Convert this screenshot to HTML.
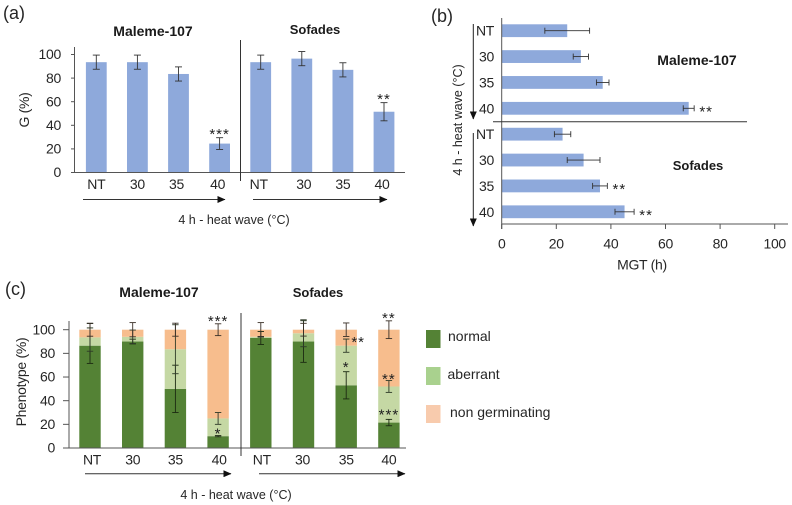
<!DOCTYPE html>
<html lang="en">
<head>
<meta charset="utf-8">
<title>Heat wave germination charts</title>
<style>
html,body{margin:0;padding:0;background:#fff;}
body{width:792px;height:505px;overflow:hidden;}
svg{display:block;font-family:"Liberation Sans",sans-serif;fill:#262626;filter:blur(0.3px);}
text{font-size:14px;letter-spacing:-0.3px;}
.title{font-weight:bold;font-size:14px;fill:#1a1a1a;letter-spacing:0;}
.title-short{font-size:13px;}
.panel{font-size:18px;letter-spacing:0;}
.axis-title{font-size:12.5px;letter-spacing:0;}
.legend-text{font-size:14px;letter-spacing:0;}
.star{font-size:15px;letter-spacing:1px;text-anchor:middle;fill:#222;}
</style>
</head>
<body>
<svg id="figure" width="792" height="505" viewBox="0 0 792 505" xmlns="http://www.w3.org/2000/svg">
  <defs>
    <marker id="head" markerWidth="8" markerHeight="7" refX="7.5" refY="3.5" orient="auto" markerUnits="userSpaceOnUse"><path d="M0,0 L8,3.5 L0,7 Z" fill="#111"/></marker>
  </defs>
  <text class="panel" x="3" y="19">(a)</text>
  <text class="title" x="153" y="36" text-anchor="middle">Maleme-107</text>
  <text class="title title-short" x="315" y="34" text-anchor="middle">Sofades</text>
  <text class="axis-title" x="234" y="224" text-anchor="middle">4 h - heat wave (°C)</text>
  <text transform="translate(29,110) rotate(-90)" text-anchor="middle">G (%)</text>

  <text class="panel" x="431" y="22">(b)</text>
  <text class="title" x="697" y="65" text-anchor="middle">Maleme-107</text>
  <text class="title title-short" x="698" y="170" text-anchor="middle">Sofades</text>
  <text x="642" y="269.5" text-anchor="middle">MGT (h)</text>
  <text class="axis-title" transform="translate(462,120) rotate(-90)" text-anchor="middle">4 h - heat wave (°C)</text>

  <text class="panel" x="5" y="295">(c)</text>
  <text class="title" x="159" y="297" text-anchor="middle">Maleme-107</text>
  <text class="title title-short" x="318" y="297" text-anchor="middle">Sofades</text>
  <text class="axis-title" x="236" y="499" text-anchor="middle">4 h - heat wave (°C)</text>
  <text transform="translate(26,382) rotate(-90)" text-anchor="middle">Phenotype (%)</text>

  <rect x="426" y="330" width="14.5" height="18" fill="#548235"/>
  <text class="legend-text" x="448" y="341">normal</text>
  <rect x="426" y="367" width="14.5" height="18" fill="#A9D18E"/>
  <text class="legend-text" x="447.5" y="379">aberrant</text>
  <rect x="426" y="405" width="14.5" height="18" fill="#F8CBAD"/>
  <text class="legend-text" x="450" y="417">non germinating</text>
</svg>
<script>
// Shared categories
const categories = ['NT', '30', '35', '40', 'NT', '30', '35', '40'];

// Chart (a): germination
const aTicks = [0, 20, 40, 60, 80, 100];
const aValues = [93.5, 93.5, 83.5, 24.5, 93.5, 96.5, 87, 51.5];
const aErrors = [6, 6, 6, 5, 6, 6, 6, 7.7];
const aStars = ['', '', '', '***', '', '', '', '**'];

// Chart (b): mean germination time
const bTicks = [0, 20, 40, 60, 80, 100];
const bValues = [24, 29, 37, 68.5, 22.3, 30, 36, 45];
const bErrors = [8.2, 2.8, 2.3, 2, 3, 6, 2.7, 3.5];
const bStars = ['', '', '', '**', '', '', '**', '**'];

// Chart (c): phenotype stacks
const cTicks = [0, 20, 40, 60, 80, 100];
const cNormal = [86.5, 90, 50, 10, 93, 90, 53, 21.5];
const cAberrant = [7, 4, 33.5, 15, 1, 7, 33.5, 30.5];
const cNonGerm = [6.5, 6, 16.5, 75, 6, 3, 13.5, 48];
const cNormalErr = [15, 2, 20, 0.5, 5.5, 17.6, 11.5, 2.7];
const cAberrantErr = [11.7, 5.7, 20.7, 5, 0.3, 11.4, 5.6, 5];
const cNonGermErr = [5.5, 6, 5.5, 5, 6, 5.4, 5.7, 7.5];
const cStarLabels = ['***', '*', '**', '*', '**', '**', '***'];
const cStarBars = [3, 3, 6, 6, 7, 7, 7];
const cStarValues = [110, 15, 92, 71, 112.6, 61, 31];
const cStarShift = [0, 0, 12, 0, 0, 0, 0];

const svg = document.getElementById('figure');
const NS = 'http://www.w3.org/2000/svg';

function mk(tag, name, attrs, txt) {
  const el = document.createElementNS(NS, tag);
  
  
  for (const k in attrs) el.setAttribute(k, attrs[k]);
  if (txt !== undefined) el.textContent = txt;
  svg.appendChild(el);
  return el;
}
function line(name, x1, y1, x2, y2, color, w, marker) {
  const el = mk('line', name, {x1: x1, y1: y1, x2: x2, y2: y2, stroke: color || '#444', 'stroke-width': w || 1});
  if (marker) el.setAttribute('marker-end', 'url(#head)');
  return el;
}
function vErr(name, x, y1, y2, capW, color) {
  line(name + '-stem', x, y1, x, y2, color, 0.9);
  line(name + '-cap-top', x - capW, y1, x + capW, y1, color, 0.9);
  line(name + '-cap-bottom', x - capW, y2, x + capW, y2, color, 0.9);
}
function hErr(name, y, x1, x2, capH, color) {
  line(name + '-stem', x1, y, x2, y, color, 0.9);
  line(name + '-cap-low', x1, y - capH, x1, y + capH, color, 0.9);
  line(name + '-cap-high', x2, y - capH, x2, y + capH, color, 0.9);
}

/* ---------- chart a ---------- */
const ax = i => 96.3 + 41.1 * i;
const ay = v => 172.5 - v * 1.18;
const aLabelNudge = i => (i === 2 || i === 3 || i === 4 || i === 7) ? -2 : (i === 5 ? 2 : 0);
const BLUE = '#8EA9DB';
aValues.forEach((v, i) => {
  mk('rect', 'chart-a-bar-' + i, {x: ax(i) - 10.4, y: ay(v), width: 20.8, height: ay(0) - ay(v), fill: BLUE});
});
aValues.forEach((v, i) => {
  vErr('chart-a-error-' + i, ax(i), ay(v + aErrors[i]), ay(v - aErrors[i]), 3.5, '#333');
  if (aStars[i]) mk('text', 'chart-a-significance-' + i, {class: 'star', x: ax(i), y: ay(v + aErrors[i]) + 1.5}, aStars[i]);
});
line('chart-a-y-axis', 74.5, 47, 74.5, 172.5, '#555');
line('chart-a-x-axis', 71, 172.5, 405, 172.5, '#555');
aTicks.forEach(t => {
  line('chart-a-y-tick-' + t, 71, ay(t), 74.5, ay(t), '#555');
  mk('text', 'chart-a-y-label-' + t, {x: 61, y: ay(t) + 4.7, 'text-anchor': 'end'}, t);
});
categories.forEach((c, i) => {
  mk('text', 'chart-a-x-label-' + i, {x: ax(i) + aLabelNudge(i), y: 189, 'text-anchor': 'middle'}, c);
});
line('chart-a-divider', 240.5, 40, 240.5, 181, '#333');
line('chart-a-arrow-maleme', 83, 199.5, 225, 199.5, '#333', 1, true);
line('chart-a-arrow-sofades', 253, 199.5, 387, 199.5, '#333', 1, true);

/* ---------- chart b ---------- */
const bx = v => 501.7 + v * 2.73;
const by = i => 30.7 + 25.87 * i;
bValues.forEach((v, i) => {
  mk('rect', 'chart-b-bar-' + i, {x: bx(0), y: by(i) - 6.4, width: bx(v) - bx(0), height: 12.8, fill: BLUE});
});
bValues.forEach((v, i) => {
  hErr('chart-b-error-' + i, by(i), bx(v - bErrors[i]), bx(v + bErrors[i]), 3, '#333');
  if (bStars[i]) mk('text', 'chart-b-significance-' + i, {class: 'star', x: bx(v + bErrors[i]) + 12, y: by(i) + 8}, bStars[i]);
  mk('text', 'chart-b-y-label-' + i, {x: 494, y: by(i) + 5, 'text-anchor': 'end'}, categories[i]);
});
line('chart-b-y-axis', 501.7, 18, 501.7, 229, '#555');
line('chart-b-x-axis', 501.7, 224, 788, 224, '#555');
bTicks.forEach(t => {
  line('chart-b-x-tick-' + t, bx(t), 224, bx(t), 229, '#555');
  mk('text', 'chart-b-x-label-' + t, {x: bx(t), y: 248.5, 'text-anchor': 'middle'}, t);
});
line('chart-b-divider', 493, 121.7, 747, 121.7, '#333');
line('chart-b-arrow-maleme', 473.3, 24, 473.3, 119, '#222', 1, true);
line('chart-b-arrow-sofades', 473.3, 133, 473.3, 226, '#222', 1, true);

/* ---------- chart c ---------- */
const cx = i => 90 + 42.7 * i;
const cy = v => 448 - v * 1.183;
const cLabelNudge = i => i === 0 ? 2 : ((i === 3 || i === 4) ? 1 : (i === 5 ? -1 : 0));
const GREEN = '#548235', LGREEN = '#C5D8A4', ORANGE = '#F7BD8D';
cNormal.forEach((n, i) => {
  const ab = n + cAberrant[i];
  const top = ab + cNonGerm[i];
  mk('rect', 'chart-c-bar-normal-' + i, {x: cx(i) - 10.7, y: cy(n), width: 21.4, height: cy(0) - cy(n), fill: GREEN});
  mk('rect', 'chart-c-bar-aberrant-' + i, {x: cx(i) - 10.7, y: cy(ab), width: 21.4, height: cy(n) - cy(ab), fill: LGREEN});
  mk('rect', 'chart-c-bar-non-germinating-' + i, {x: cx(i) - 10.7, y: cy(top), width: 21.4, height: cy(ab) - cy(top), fill: ORANGE});
});
cNormal.forEach((n, i) => {
  const ab = n + cAberrant[i];
  const top = ab + cNonGerm[i];
  vErr('chart-c-error-normal-' + i, cx(i), cy(n + cNormalErr[i]), cy(n - cNormalErr[i]), 3.2, '#1c2a12');
  vErr('chart-c-error-aberrant-' + i, cx(i), cy(ab + cAberrantErr[i]), cy(ab - cAberrantErr[i]), 3.2, '#2e3a28');
  vErr('chart-c-error-non-germinating-' + i, cx(i), cy(top + cNonGermErr[i]), cy(top - cNonGermErr[i]), 3.2, '#3a3028');
});
cStarLabels.forEach((s, k) => {
  mk('text', 'chart-c-significance-' + k, {class: 'star', x: cx(cStarBars[k]) + cStarShift[k], y: cy(cStarValues[k]) + 8}, s);
});
line('chart-c-y-axis', 69, 321, 69, 448, '#555');
line('chart-c-x-axis', 63, 448, 406, 448, '#555');
cTicks.forEach(t => {
  line('chart-c-y-tick-' + t, 63, cy(t), 69, cy(t), '#555');
  mk('text', 'chart-c-y-label-' + t, {x: 55, y: cy(t) + 4.7, 'text-anchor': 'end'}, t);
});
categories.forEach((c, i) => {
  mk('text', 'chart-c-x-label-' + i, {x: cx(i) + cLabelNudge(i), y: 464.5, 'text-anchor': 'middle'}, c);
});
line('chart-c-divider', 241, 313, 241, 456, '#333');
line('chart-c-arrow-maleme', 85, 473.7, 231, 473.7, '#333', 1, true);
line('chart-c-arrow-sofades', 259, 473.7, 405, 473.7, '#333', 1, true);
</script>
</body>
</html>
